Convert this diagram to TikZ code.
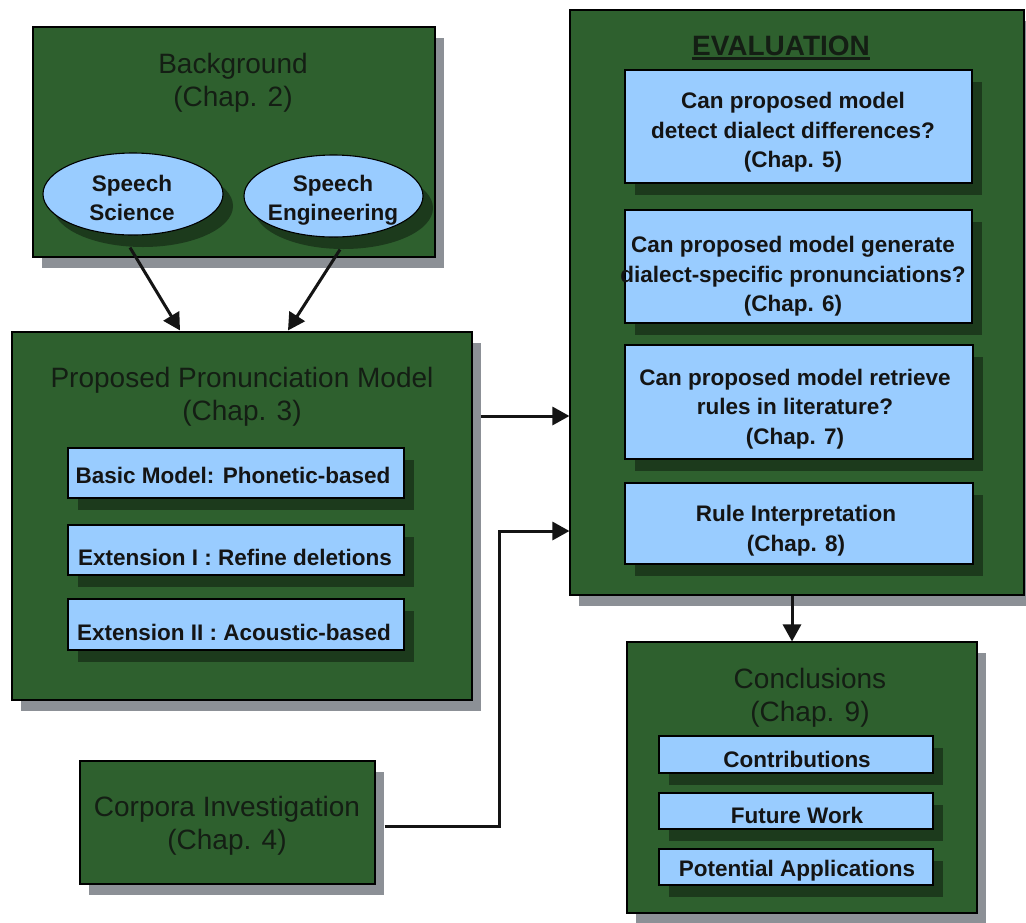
\documentclass[tikz,border=0pt]{standalone}
\usepackage{fontspec}
\setmainfont{Liberation Sans}
\usetikzlibrary{shadows,arrows.meta,shapes.geometric}
\definecolor{boxgreen}{RGB}{46,96,46}
\definecolor{paleblue}{RGB}{153,204,255}
\definecolor{shgray}{RGB}{140,144,150}
\definecolor{shgreen}{RGB}{28,58,28}
\definecolor{titleink}{RGB}{20,30,20}
\definecolor{ink}{RGB}{20,20,20}
\begin{document}
\begin{tikzpicture}[x=1pt,y=-1pt,
  panel/.style={draw=black,line width=1.1pt,fill=boxgreen,inner sep=0pt,
    drop shadow={shadow xshift=9pt,shadow yshift=-11pt,fill=shgray,opacity=1}},
  item/.style={draw=black,line width=1.1pt,fill=paleblue,inner sep=0pt,
    drop shadow={shadow xshift=10pt,shadow yshift=-12pt,fill=shgreen,opacity=1}},
  oval/.style={ellipse,item,minimum width=180pt,minimum height=82pt},
  ptitle/.style={font=\fontsize{28}{33}\selectfont,text=titleink,align=center,inner sep=0pt},
  ittext/.style={font=\fontsize{22.5}{29.5}\selectfont\bfseries,text=ink,align=center,inner sep=0pt},
  arr/.style={draw=ink,line width=3pt,-{Triangle[length=17pt,width=18pt]}},
]
\useasboundingbox (0,0) rectangle (1026,922);
\fill[white] (0,0) rectangle (1026,922);

% ---- Background (Chap. 2)
\node[panel,minimum width=402pt,minimum height=230pt] (bg) at (234,142) {};
\node[ptitle] (bgT) at (233,83) {Background\\(Chap. 2)};
\node[oval] (sci) at (133,194) {};
\node[oval,minimum width=179pt] (eng) at (333.5,196) {};
\node[ittext] (sciT) at (132,198) {Speech\\Science};
\node[ittext] (engT) at (333,200) {Speech\\Engineering};

% ---- Proposed Pronunciation Model (Chap. 3)
\node[panel,minimum width=460pt,minimum height=368pt] (prop) at (242,516) {};
\node[ptitle] (propT) at (242,397) {Proposed Pronunciation Model\\(Chap. 3)};
\node[item,minimum width=336pt,minimum height=50pt] (basic) at (236,473) {};
\node[item,minimum width=336pt,minimum height=50pt] (ext1) at (236,550) {};
\node[item,minimum width=336pt,minimum height=51pt] (ext2) at (236,624.5) {};
\node[ittext,anchor=base] (basicT) at (233,483) {Basic Model: Phonetic-based};
\node[ittext,anchor=base] (ext1T) at (235,565) {Extension I : Refine deletions};
\node[ittext,anchor=base] (ext2T) at (234,640) {Extension II : Acoustic-based};

% ---- Corpora Investigation (Chap. 4)
\node[panel,minimum width=295pt,minimum height=123pt] (corp) at (227.5,822.5) {};
\node[ptitle] (corpT) at (227,826) {Corpora Investigation\\(Chap. 4)};

% ---- Evaluation
\node[panel,minimum width=454pt,minimum height=585pt] (eval) at (797,302.5) {};
\node[font=\fontsize{28}{33}\selectfont\bfseries,text=titleink,inner sep=0pt,anchor=base] (evT) at (781,55) {EVALUATION};
\draw[titleink,line width=2.4pt] ([yshift=-3.5pt]evT.base west) -- ([yshift=-3.5pt]evT.base east);
\node[item,minimum width=347pt,minimum height=113pt] (q1) at (798.5,126.5) {};
\node[item,minimum width=347pt,minimum height=113pt] (q2) at (798.5,266.5) {};
\node[item,minimum width=348pt,minimum height=114pt] (q3) at (799,402) {};
\node[item,minimum width=348pt,minimum height=81pt] (q4) at (799,523.5) {};
\node[ittext] (q1T) at (793,132.5) {Can proposed model\\detect dialect differences?\\(Chap. 5)};
\node[ittext] (q2T) at (793,276.5) {Can proposed model generate\\dialect-specific pronunciations?\\(Chap. 6)};
\node[ittext] (q3T) at (795,409) {Can proposed model retrieve\\rules in literature?\\(Chap. 7)};
\node[ittext] (q4T) at (796,530.5) {Rule Interpretation\\(Chap. 8)};

% ---- Conclusions (Chap. 9)
\node[panel,minimum width=350pt,minimum height=271pt] (concl) at (802,777.5) {};
\node[ptitle] (conclT) at (810,698) {Conclusions\\(Chap. 9)};
\node[item,minimum width=274pt,minimum height=37pt] (contrib) at (796,754.5) {};
\node[item,minimum width=274pt,minimum height=36pt] (future) at (796,811) {};
\node[item,minimum width=274pt,minimum height=36pt] (apps) at (796,867) {};
\node[ittext,anchor=base] (contribT) at (797,767) {Contributions};
\node[ittext,anchor=base] (futureT) at (797,823) {Future Work};
\node[ittext,anchor=base] (appsT) at (797,876) {Potential Applications};

% ---- Connectors
\draw[arr] ([xshift=-3pt,yshift=-12pt]sci.south) -- ([xshift=-62pt,yshift=1pt]prop.north);
\draw[arr] ([xshift=6.5pt,yshift=-12pt]eng.south) -- ([xshift=46pt,yshift=1pt]prop.north);
\coordinate (pOut) at ([xshift=8pt,yshift=100pt]prop.east);
\draw[arr] (pOut) -- (pOut -| eval.west);
\coordinate (cOut) at ([xshift=9pt,yshift=-4pt]corp.east);
\coordinate (cBend) at (499,531);
\draw[arr] (cOut) -| (cBend) -- (cBend -| eval.west);
\coordinate (eOut) at ([xshift=-5pt]eval.south);
\draw[arr] (eOut) -- (eOut |- concl.north);
\end{tikzpicture}
\end{document}
